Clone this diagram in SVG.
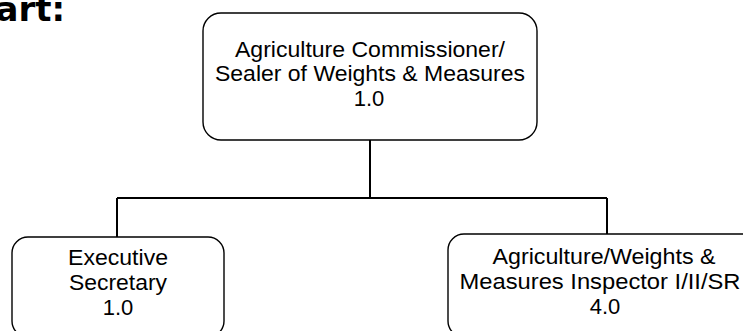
<svg xmlns="http://www.w3.org/2000/svg" width="743" height="331" viewBox="0 0 743 331">
<style>
.box{fill:#fff;stroke:#000;stroke-width:1.4}
.lbl{font-family:"Liberation Sans",Arial,sans-serif;font-size:22px;fill:#000;text-anchor:middle}
.title{font-family:"DejaVu Sans",sans-serif;font-weight:bold;font-size:34px;fill:#000;text-anchor:end}
.conn{fill:none;stroke:#000;stroke-width:2}
</style>
<rect width="743" height="331" fill="#fff"/>
<text class="title" x="65" y="21">art:</text>
<g id="connectors">
<path class="conn" d="M370 140 V198"/>
<path class="conn" d="M117 198 H607"/>
<path class="conn" d="M117 198 V237"/>
<path class="conn" d="M607 198 V234"/>
</g>
<g id="commissioner">
<rect class="box" x="203" y="13" width="334" height="127" rx="18"/>
<text class="lbl" x="370" y="56.5" textLength="270" lengthAdjust="spacingAndGlyphs">Agriculture Commissioner/</text>
<text class="lbl" x="370" y="81" textLength="310" lengthAdjust="spacingAndGlyphs">Sealer of Weights &amp; Measures</text>
<text class="lbl" x="369" y="105.5">1.0</text>
</g>
<g id="secretary">
<rect class="box" x="12" y="237" width="212" height="100" rx="16"/>
<text class="lbl" x="118" y="265" textLength="100" lengthAdjust="spacingAndGlyphs">Executive</text>
<text class="lbl" x="118" y="290" textLength="98" lengthAdjust="spacingAndGlyphs">Secretary</text>
<text class="lbl" x="118" y="315">1.0</text>
</g>
<g id="inspector">
<rect class="box" x="448" y="234" width="314" height="103" rx="16"/>
<text class="lbl" x="604" y="264" textLength="223" lengthAdjust="spacingAndGlyphs">Agriculture/Weights &amp;</text>
<text class="lbl" x="600" y="289" textLength="281" lengthAdjust="spacingAndGlyphs">Measures Inspector I/II/SR</text>
<text class="lbl" x="605" y="314">4.0</text>
</g>
</svg>
